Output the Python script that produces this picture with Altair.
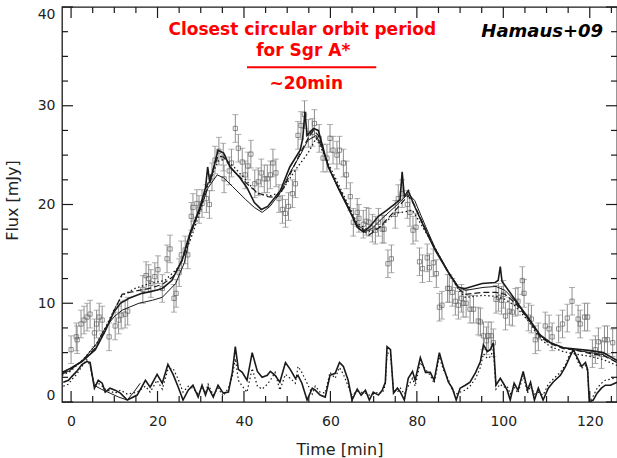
import altair as alt
import pandas as pd

# ---------------- data ----------------
obs_time = [0.0, 1.2, 1.4, 2.3, 3.0, 3.7, 4.4, 5.4, 5.9, 6.5, 7.2, 8.8, 10.2, 11.0, 11.6, 12.5, 13.1,
            16.6, 17.35, 17.96, 18.47, 19.38, 20.09, 21.1, 22.2, 22.9, 23.8, 24.3, 25.0, 25.5, 26.4, 27.0,
            27.8, 28.2, 29.1, 29.6, 30.3, 31.3, 32.0, 32.6, 33.3, 34.2, 35.2, 35.4, 36.6, 37.1, 38.0, 38.7,
            39.6, 40.3, 40.9, 41.6, 42.5, 43.3, 44.0, 44.7, 45.4, 46.1, 46.7, 47.4, 48.1, 48.9, 49.6, 50.3,
            51.2, 51.9, 52.5, 53.2, 54.0, 54.9, 55.8, 56.3, 57.4, 58.3, 59.2, 59.9, 60.6, 61.5, 62.1, 63.0,
            63.7, 64.6, 65.3, 66.2, 66.6, 67.6, 68.3, 68.9, 69.7, 70.4, 71.1, 72.0, 72.4, 73.3, 74.1, 75.0,
            75.7, 76.6, 77.8, 78.4, 79.1, 79.8, 80.6, 81.3, 82.4, 82.9, 83.8, 84.5, 85.2, 85.8, 87.1, 87.5,
            88.2, 88.9, 89.6, 90.3, 90.7, 91.4, 92.3, 93.1, 94.2, 94.7, 95.4, 96.1, 96.5, 97.2, 97.7, 98.3,
            98.9, 99.6, 100.0, 100.5, 101.4, 102.1, 102.8, 103.4, 104.4, 104.8, 105.8, 106.5, 107.4, 108.1,
            109.7, 110.6, 111.3, 112.8, 113.7, 114.8, 115.9, 117.3, 117.8, 118.8, 119.5, 120.6, 121.3, 122.0,
            122.7, 123.4, 124.1, 125.3]
obs_flux = [5.3, 6.6, 6.3, 7.9, 8.3, 8.6, 8.9, 7.0, 7.9, 8.6, 8.3, 6.6, 7.7, 8.3, 8.8, 8.9, 9.2,
            11.4, 12.8, 12.5, 12.0, 12.7, 13.4, 11.5, 14.5, 15.5, 10.5, 11.0, 13.1, 14.9, 15.4, 14.9,
            18.8, 19.7, 20.1, 19.5, 20.1, 20.6, 20.0, 22.8, 24.5, 25.4, 24.8, 22.6, 23.4, 24.2, 27.7, 25.7,
            24.3, 23.0, 23.9, 25.1, 22.1, 22.3, 23.2, 22.6, 22.6, 23.0, 24.2, 23.2, 20.6, 19.5, 19.1, 19.8,
            21.1, 22.1, 27.0, 28.0, 29.1, 27.2, 27.3, 28.2, 26.7, 24.7, 24.7, 26.7, 25.5, 25.0, 25.5, 24.2,
            23.0, 20.8, 18.2, 19.2, 18.6, 18.0, 18.3, 18.2, 17.6, 17.4, 18.2, 17.5, 17.5, 14.0, 14.5, 19.0,
            20.6, 21.1, 20.0, 19.2, 17.4, 17.7, 14.2, 13.5, 14.6, 13.6, 14.1, 13.0, 9.6, 9.8, 11.5, 11.5,
            11.1, 10.2, 9.8, 10.5, 10.0, 10.0, 9.4, 9.4, 8.2, 8.1, 6.7, 6.2, 6.7, 6.7, 6.0, 10.4,
            10.6, 10.3, 10.9, 8.7, 9.2, 9.1, 10.1, 10.2, 12.3, 11.0, 8.6, 8.4, 6.3, 6.6,
            7.7, 7.4, 6.6, 7.4, 7.9, 8.5, 10.2, 8.4, 7.9, 8.6, 8.6, 4.9, 5.3, 6.1,
            4.8, 6.3, 6.3, 6.0]
OBS_ERR = 1.4  # half length of the error bars (mJy)

# model 1: solid, thick (with the sharp spikes)
model_a_time = [-2.1, -0.2, 2.5, 5.6, 7.9, 9.9, 11.4, 13.4, 16.4, 19.5, 21.1, 23.3, 25.7, 27.5, 29.8, 31.1,
                31.6, 32.1, 34.0, 35.3, 36.8, 38.9, 40.7, 42.4, 44.0, 45.5, 48.4, 50.6, 53.0, 53.6, 54.1,
                54.6, 56.1, 57.2, 59.5, 61.8, 64.1, 66.2, 67.7, 69.4, 71.1, 73.0, 75.0, 76.1, 76.6, 77.1,
                78.0, 79.6, 82.0, 84.2, 87.3, 89.6, 91.2, 95.1, 98.1, 98.8, 99.3, 99.7, 100.4, 102.8, 105.8,
                108.5, 110.9, 113.9, 116.2, 120.2, 123.1, 126.3]
model_a_flux = [3.0, 3.4, 4.1, 5.3, 7.2, 9.1, 10.0, 10.5, 11.0, 11.3, 11.5, 12.3, 14.4, 17.1, 19.7, 21.7,
                23.8, 22.2, 25.5, 25.2, 23.8, 22.8, 21.7, 20.2, 19.5, 19.8, 21.4, 23.8, 25.5, 26.7, 29.4,
                27.0, 27.7, 27.5, 23.8, 21.7, 19.7, 17.7, 17.2, 17.9, 18.8, 19.4, 20.1, 20.5, 23.3, 20.8,
                21.4, 19.7, 17.4, 15.4, 13.1, 11.6, 11.5, 12.0, 12.1, 12.3, 13.7, 12.2, 11.8, 10.3, 8.5,
                6.8, 6.0, 5.5, 5.4, 5.2, 5.0, 4.2]
# model 2: solid, thin
model_b_time = [-2.1, -0.2, 2.8, 5.9, 7.9, 9.9, 11.8, 15.7, 18.8, 21.1, 24.2, 26.2, 27.5, 29.8, 31.7, 33.8,
                35.3, 37.4, 40.4, 42.4, 44.2, 46.0, 48.4, 50.6, 53.0, 54.8, 56.7, 58.2, 59.7, 61.8, 64.1,
                66.2, 68.4, 69.7, 72.0, 75.0, 78.0, 79.5, 82.0, 84.2, 87.3, 89.6, 91.2, 95.3, 98.3, 100.4,
                102.8, 105.8, 108.5, 110.9, 113.9, 116.2, 120.2, 123.1, 126.3]
model_b_flux = [2.8, 3.2, 4.3, 5.9, 7.5, 8.6, 9.3, 10.0, 10.3, 10.6, 12.0, 14.1, 16.8, 19.5, 21.7, 23.0,
                22.7, 21.8, 20.5, 19.7, 19.2, 19.8, 21.2, 23.2, 25.0, 26.5, 27.0, 25.6, 23.7, 21.6, 19.6,
                17.9, 17.3, 17.6, 18.6, 19.8, 21.1, 20.4, 17.8, 15.6, 13.2, 11.7, 11.3, 11.6, 11.7, 11.3,
                10.2, 8.4, 6.7, 6.0, 5.5, 5.3, 5.0, 4.8, 4.0]
# model 3: dashed
model_c_time = [-2.1, -0.2, 2.8, 5.9, 7.9, 9.9, 11.8, 13.5, 15.7, 18.1, 21.1, 23.6, 25.7, 27.5, 29.8, 31.7,
                34.0, 35.3, 37.4, 40.7, 43.1, 45.5, 47.5, 49.1, 50.6, 53.0, 55.2, 56.1, 57.2, 59.5, 61.8,
                64.1, 66.2, 68.9, 71.4, 75.0, 78.0, 79.6, 82.0, 84.2, 87.3, 89.6, 91.2, 95.3, 98.3, 100.4,
                102.8, 105.8, 108.5, 110.9, 113.9, 116.2, 120.2, 123.1, 126.3]
model_c_flux = [2.9, 3.3, 4.2, 5.6, 7.3, 9.2, 10.9, 11.1, 11.3, 11.5, 11.9, 12.7, 14.3, 16.9, 19.6, 22.2,
                24.9, 24.8, 23.5, 22.1, 21.2, 20.8, 20.7, 21.6, 23.0, 25.2, 27.0, 27.5, 27.0, 23.9, 21.8,
                19.8, 17.9, 16.9, 17.7, 19.4, 20.9, 19.8, 17.5, 15.5, 13.1, 11.5, 10.9, 11.1, 11.1, 10.9,
                10.0, 8.4, 6.6, 5.9, 5.4, 5.3, 4.9, 4.7, 4.0]
# model 4: dotted
model_d_time = [-2.1, -0.2, 2.8, 5.9, 7.9, 9.9, 11.8, 14.8, 18.1, 21.7, 25.0, 27.5, 29.8, 31.7, 34.0, 35.8,
                37.9, 40.4, 43.1, 46.1, 48.5, 51.9, 54.8, 56.7, 58.2, 59.7, 61.8, 64.1, 66.2, 69.4, 72.0,
                75.0, 79.0, 81.1, 84.2, 87.3, 89.6, 91.2, 95.3, 98.3, 100.4, 102.8, 105.8, 108.5, 110.9,
                113.9, 116.2, 120.2, 123.1, 126.3]
model_d_flux = [2.7, 3.1, 4.3, 5.9, 7.5, 9.3, 10.8, 11.5, 12.0, 12.3, 13.7, 16.3, 19.2, 22.0, 24.4, 24.6,
                23.7, 22.5, 21.1, 20.9, 21.2, 23.5, 25.2, 26.7, 25.4, 24.0, 22.1, 20.0, 18.1, 17.2, 17.9,
                19.1, 19.4, 17.9, 15.6, 13.1, 11.4, 10.6, 10.8, 10.7, 10.4, 9.7, 8.2, 6.4, 5.6,
                5.1, 4.9, 4.6, 4.3, 3.7]

# residuals |data - model|
resid_time = [-1.8, -0.6, 0.2, 1.3, 2.5, 3.6, 4.4, 5.4, 6.3, 7.2, 7.9, 9.0, 10.2, 11.4, 13.0, 15.3, 17.2,
              18.3, 19.9, 21.1, 22.4, 23.6, 24.8, 25.9, 27.1, 28.2, 29.4, 30.3, 31.1, 31.7, 32.9, 34.0,
              35.2, 36.4, 37.3, 38.0, 38.7, 39.6, 40.7, 41.9, 43.1, 44.2, 45.4, 46.1, 47.2, 48.3, 49.6,
              50.7, 51.9, 52.5, 53.4, 54.6, 55.8, 56.5, 57.6, 58.8, 59.9, 61.1, 62.1, 63.0, 64.1, 65.0,
              66.2, 67.1, 68.1, 69.0, 69.9, 71.1, 72.0, 72.7, 73.1, 73.9, 74.6, 75.5, 76.2, 77.1, 78.0,
              79.0, 79.6, 80.8, 82.0, 83.1, 84.0, 85.2, 86.1, 87.3, 88.2, 89.1, 90.0, 91.2, 92.3, 93.6,
              94.7, 95.4, 96.3, 97.0, 97.7, 98.3, 99.3, 100.0, 100.9, 101.6, 102.5, 103.4, 104.6, 105.6,
              106.3, 107.2, 108.1, 109.2, 110.4, 111.5, 113.2, 114.4, 115.3, 116.2, 117.1, 118.1, 119.0,
              119.5, 119.9, 120.8, 121.7, 122.7, 123.6, 124.8, 126.3]
resid_main = [2.0, 2.2, 2.6, 3.1, 3.8, 4.1, 4.0, 1.4, 2.2, 1.9, 1.0, 1.4, 1.2, 0.9, 0.2, 0.7, 2.2,
              1.5, 2.8, 1.9, 3.8, 2.8, 1.5, 0.2, 1.2, 1.7, 0.5, 1.7, 0.7, 1.5, 0.5, 1.7,
              0.9, 1.0, 3.0, 5.6, 3.3, 3.0, 2.2, 5.0, 3.1, 2.5, 2.7, 3.1, 2.7, 2.0, 4.0,
              3.3, 2.4, 2.7, 1.9, 0.2, 1.4, 1.2, 0.7, 0.5, 2.7, 2.9, 4.0, 3.6, 2.2, 0.2,
              1.3, 0.7, 1.2, 0.2, 1.0, 0.7, 1.2, 2.0, 5.6, 5.3, 0.9, 1.4, 1.0, 0.2, 2.4,
              3.1, 2.2, 4.5, 3.0, 3.0, 2.2, 5.0, 3.6, 2.0, 1.4, 0.2, 1.4, 1.7, 2.0, 3.0,
              4.1, 5.8, 5.1, 5.3, 6.0, 1.7, 2.4, 1.9, 1.2, 0.2, 1.9, 1.2, 3.1, 1.2,
              2.0, 0.2, 1.4, 0.2, 1.4, 2.0, 2.7, 3.6, 4.5, 5.3, 4.5, 3.6, 4.0,
              3.3, 0.0, 0.2, 0.9, 1.4, 1.7, 1.7, 2.0]
resid_dotted = [1.6, 1.8, 2.3, 2.8, 3.6, 4.3, 3.7, 1.7, 1.9, 1.6, 1.3, 1.1, 0.9, 1.2, 0.8, 1.0, 1.6,
                1.0, 2.2, 1.3, 3.3, 3.4, 2.3, 1.0, 1.6, 1.4, 0.8, 1.4, 0.9, 1.8, 0.7, 1.4,
                0.6, 1.4, 2.6, 4.4, 2.2, 1.6, 1.0, 3.4, 1.6, 1.3, 1.8, 2.2, 3.0, 1.2, 2.8,
                2.4, 1.9, 3.6, 3.0, 1.9, 0.8, 1.6, 1.0, 0.9, 3.0, 2.4, 3.5, 2.8, 1.6, 0.7,
                1.1, 1.0, 0.9, 0.7, 0.8, 1.0, 0.9, 1.7, 5.0, 4.8, 1.2, 1.0, 1.4, 0.8, 1.6,
                2.4, 1.6, 4.0, 3.3, 2.7, 1.9, 4.6, 3.3, 2.3, 1.2, 0.8, 1.0, 1.2, 1.6, 2.4,
                3.5, 4.9, 4.4, 4.6, 5.3, 1.3, 1.8, 1.5, 1.6, 0.8, 1.5, 0.9, 2.7, 0.9,
                1.6, 0.8, 1.0, 0.7, 1.8, 2.3, 3.0, 3.8, 4.8, 5.4, 4.2, 3.4, 3.7,
                3.1, 0.0, 0.6, 1.4, 1.9, 2.2, 2.3, 2.5]
resid_thin_time = [4.4, 5.3, 7.0, 9.0, 11.0, 13.0, 14.5, 16.0]
resid_thin = [3.8, 1.7, 1.3, 0.9, 0.5, 0.2, 1.0, 1.9]

x_major = [0, 20, 40, 60, 80, 100, 120]
x_minor = [5, 10, 15, 25, 30, 35, 45, 50, 55, 65, 70, 75, 85, 90, 95, 105, 110, 115, 125]
y_major = [0, 10, 20, 30, 40]
y_minor = [2.5, 5, 7.5, 12.5, 15, 17.5, 22.5, 25, 27.5, 32.5, 35, 37.5]

# ---------------- chart ----------------
W, H = 555, 395
FONT = "DejaVu Sans"
INK = "#1a1a1a"

xscale = alt.Scale(domain=[-2.1, 126.3], nice=False, zero=False)
yscale = alt.Scale(domain=[0, 40], nice=False, zero=False)

xaxis = alt.Axis(title="Time [min]", values=x_major, ticks=False, tickSize=0, domain=False, grid=False,
                 labelFontSize=14, labelPadding=12, labelFlush=False, labelColor="#222",
                 labelFont=FONT, format="d", titleFont=FONT, titleFontSize=16, titleFontWeight="normal",
                 titleColor="#222", titleY=52, titleBaseline="alphabetic")
yaxis = alt.Axis(title="Flux [mJy]", values=y_major, ticks=False, tickSize=0, domain=False, grid=False,
                 labelFontSize=14, labelPadding=7, labelFlush=True, labelColor="#222",
                 labelFont=FONT, format="d", titleFont=FONT, titleFontSize=16, titleFontWeight="normal",
                 titleColor="#222", titleX=-45, titleY=193, titleAngle=-90, titleAlign="center",
                 titleBaseline="alphabetic")


def X(field="t"):
    return alt.X(f"{field}:Q", scale=xscale, axis=xaxis)


def Y(field="flux"):
    return alt.Y(f"{field}:Q", scale=yscale, axis=yaxis)


obs = pd.DataFrame({"t": obs_time, "flux": obs_flux})
obs_base = alt.Chart(obs).transform_calculate(
    lo=f"datum.flux - {OBS_ERR}", hi=f"datum.flux + {OBS_ERR}")

err_col = "#8f8f8f"
err_bars = obs_base.mark_rule(color=err_col, strokeWidth=1).encode(x=X(), y=Y("lo"), y2="hi:Q")
cap_lo = obs_base.mark_tick(color=err_col, orient="horizontal", size=6, thickness=1).encode(x=X(), y=Y("lo"))
cap_hi = obs_base.mark_tick(color=err_col, orient="horizontal", size=6, thickness=1).encode(x=X(), y=Y("hi"))
squares = obs_base.mark_point(shape="square", size=18, filled=False, color="#555555",
                              strokeWidth=0.9).encode(x=X(), y=Y())


def line(times, values, **kw):
    df = pd.DataFrame({"t": times, "flux": values})
    return alt.Chart(df).mark_line(color=INK, clip=True, **kw).encode(x=X(), y=Y())


lines = [
    line(model_d_time, model_d_flux, strokeWidth=1.3, strokeDash=[1.5, 2.5]),
    line(model_c_time, model_c_flux, strokeWidth=1.2, strokeDash=[6, 3]),
    line(model_b_time, model_b_flux, strokeWidth=1.0),
    line(model_a_time, model_a_flux, strokeWidth=1.6),
    line(resid_time, resid_dotted, strokeWidth=1.2, strokeDash=[1.5, 2.5]),
    line(resid_thin_time, resid_thin, strokeWidth=1.0),
    line(resid_time, resid_main, strokeWidth=1.6),
]

# inward pointing frame ticks
tick_col = INK
xmaj = alt.Chart(pd.DataFrame({"t": x_major}))
xmin = alt.Chart(pd.DataFrame({"t": x_minor}))
ymaj = alt.Chart(pd.DataFrame({"flux": y_major}))
ymin = alt.Chart(pd.DataFrame({"flux": y_minor}))
frame_ticks = [
    xmaj.mark_rule(color=tick_col, strokeWidth=1.2).encode(x=X(), y=alt.value(H), y2=alt.value(H - 11)),
    xmaj.mark_rule(color=tick_col, strokeWidth=1.2).encode(x=X(), y=alt.value(0), y2=alt.value(11)),
    xmin.mark_rule(color=tick_col, strokeWidth=1.2, clip=True).encode(x=X(), y=alt.value(H), y2=alt.value(H - 6)),
    xmin.mark_rule(color=tick_col, strokeWidth=1.2, clip=True).encode(x=X(), y=alt.value(0), y2=alt.value(6)),
    ymaj.mark_rule(color=tick_col, strokeWidth=1.2).encode(y=Y(), x=alt.value(0), x2=alt.value(11)),
    ymaj.mark_rule(color=tick_col, strokeWidth=1.2).encode(y=Y(), x=alt.value(W), x2=alt.value(W - 11)),
    ymin.mark_rule(color=tick_col, strokeWidth=1.2).encode(y=Y(), x=alt.value(0), x2=alt.value(6)),
    ymin.mark_rule(color=tick_col, strokeWidth=1.2).encode(y=Y(), x=alt.value(W), x2=alt.value(W - 6)),
]

# annotations
one = alt.Chart(pd.DataFrame({"_": [0]}))
RED = "#ff0000"
annots = [
    one.mark_text(text="Closest circular orbit period", color=RED, font=FONT, fontSize=17,
                  fontWeight="bold", align="center", baseline="alphabetic").encode(
        x=alt.X(datum=53.5, scale=xscale, axis=xaxis), y=alt.Y(datum=37.15, scale=yscale, axis=yaxis)),
    one.mark_text(text="for Sgr A*", color=RED, font=FONT, fontSize=17, fontWeight="bold",
                  align="center", baseline="alphabetic").encode(
        x=alt.X(datum=53.7, scale=xscale, axis=xaxis), y=alt.Y(datum=35.0, scale=yscale, axis=yaxis)),
    one.mark_rule(color=RED, strokeWidth=2).encode(
        x=alt.X(datum=40.7, scale=xscale, axis=xaxis), x2=alt.datum(70.6),
        y=alt.Y(datum=33.9, scale=yscale, axis=yaxis)),
    one.mark_text(text="~20min", color=RED, font=FONT, fontSize=17, fontWeight="bold",
                  align="center", baseline="alphabetic").encode(
        x=alt.X(datum=54.4, scale=xscale, axis=xaxis), y=alt.Y(datum=31.7, scale=yscale, axis=yaxis)),
    one.mark_text(text="Hamaus+09", color="#000000", font=FONT, fontSize=18, fontWeight="bold",
                  fontStyle="italic", align="center", baseline="alphabetic").encode(
        x=alt.X(datum=109.0, scale=xscale, axis=xaxis), y=alt.Y(datum=36.97, scale=yscale, axis=yaxis)),
]

chart = alt.layer(
    err_bars, cap_lo, cap_hi, squares, *lines, *frame_ticks, *annots
).properties(
    width=W, height=H,
    padding={"left": 62, "top": 7, "right": 0, "bottom": 56},
    autosize=alt.AutoSizeParams(type="none"),
    background="white",
).configure_view(
    stroke=INK, strokeWidth=1.3
)

chart.save("out.html", embed_options={"renderer": "svg", "actions": False})
